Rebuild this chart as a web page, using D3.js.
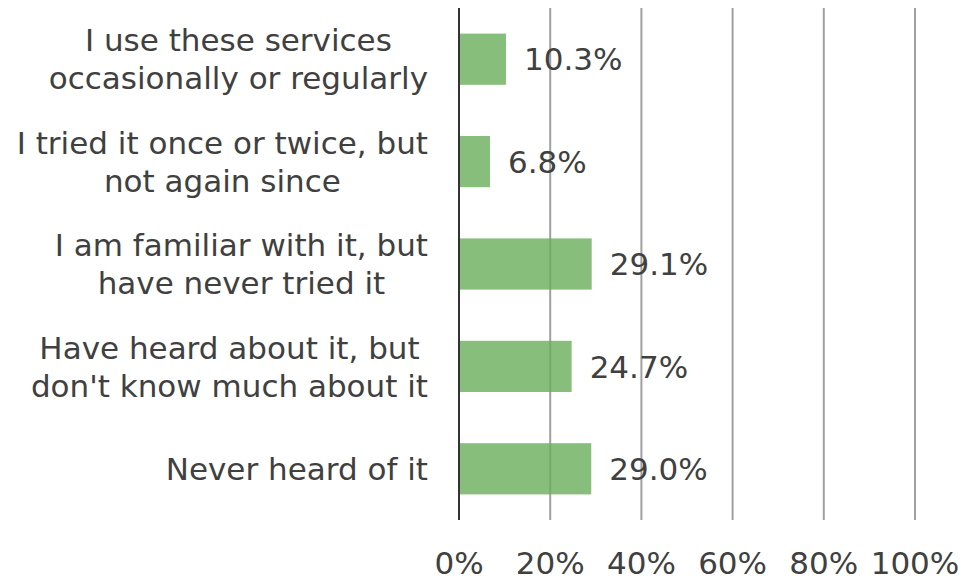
<!DOCTYPE html>
<html>
<head>
<meta charset="utf-8">
<script src="https://cdn.jsdelivr.net/npm/d3@7"></script>
<style>
html,body{margin:0;padding:0;background:#fff;}
svg{display:block;}
text{font-family:"DejaVu Sans",Verdana,sans-serif;fill:#404040;}
</style>
</head>
<body>
<svg id="chart" width="962" height="582"></svg>
<script>
const categories = [
  ["I use these services", "occasionally or regularly"],
  ["I tried it once or twice, but", "not again since"],
  ["I am familiar with it, but", "have never tried it"],
  ["Have heard about it, but", "don't know much about it"],
  ["Never heard of it"]
];
const values = [10.3, 6.8, 29.1, 24.7, 29.0];
const ticks = [0, 20, 40, 60, 80, 100];

(function () {
const svg = d3.select("#chart");
const pLeft = 459, pRight = 915, pTop = 8, pBottom = 520;
const fs = 31;

const x = d3.scaleLinear().domain([0, 100]).range([pLeft, pRight]);
const y = d3.scaleBand().domain(d3.range(categories.length)).range([pTop, pBottom]).paddingInner(0.5).paddingOuter(0.25);

// gridlines
svg.append("g").selectAll("line").data(ticks.filter(t => t > 0)).join("line")
  .attr("x1", d => x(d)).attr("x2", d => x(d))
  .attr("y1", pTop).attr("y2", pBottom)
  .attr("stroke", "#a0a0a0").attr("stroke-width", 2);

// bars
svg.append("g").selectAll("rect").data(values).join("rect")
  .attr("x", x(0)).attr("y", (d, i) => y(i))
  .attr("width", d => x(d) - x(0)).attr("height", y.bandwidth())
  .attr("fill", "#6aae5a").attr("fill-opacity", 0.8);

// zero axis line
svg.append("line").attr("x1", x(0)).attr("x2", x(0)).attr("y1", pTop).attr("y2", pBottom)
  .attr("stroke", "#333").attr("stroke-width", 2);

// value labels
svg.append("g").selectAll("text").data(values).join("text")
  .attr("x", d => x(d) + 18)
  .attr("y", (d, i) => y(i) + y.bandwidth() / 2)
  .attr("dy", "0.36em")
  .attr("font-size", fs)
  .text(d => d.toFixed(1) + "%");

// x tick labels
svg.append("g").selectAll("text").data(ticks).join("text")
  .attr("x", d => x(d)).attr("y", 563).attr("dy", "0.36em")
  .attr("text-anchor", "middle").attr("font-size", fs)
  .text(d => d + "%");

// category labels
const lineH = 38;
const labelRight = 428;
categories.forEach((lines, i) => {
  const g = svg.append("g");
  const cy = y(i) + y.bandwidth() / 2;
  const texts = g.selectAll("text").data(lines).join("text")
    .attr("font-size", fs)
    .attr("text-anchor", "middle")
    .attr("y", (d, j) => cy + (j - (lines.length - 1) / 2) * lineH)
    .attr("dy", "0.36em")
    .text(d => d);
  let maxW = 0;
  texts.each(function () { maxW = Math.max(maxW, this.getComputedTextLength()); });
  texts.attr("x", labelRight - maxW / 2);
});
})();
</script>
</body>
</html>
